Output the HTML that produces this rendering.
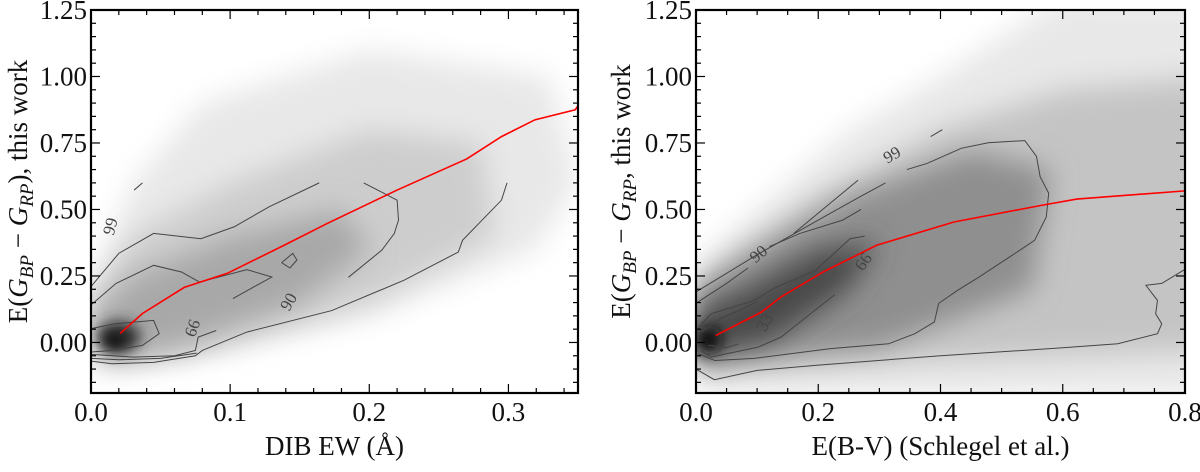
<!DOCTYPE html>
<html><head><meta charset="utf-8"><style>
body{margin:0;background:#fff;}
svg text{font-family:"Liberation Serif","DejaVu Serif",serif;fill:#111;}
</style></head><body>
<svg id="fig" width="1200" height="467" viewBox="0 0 1200 467" xmlns="http://www.w3.org/2000/svg" font-family="Liberation Serif, DejaVu Serif, serif">
<defs>
<filter id="b1" x="-50%" y="-50%" width="200%" height="200%"><feGaussianBlur stdDeviation="14"/></filter>
<filter id="b2" x="-50%" y="-50%" width="200%" height="200%"><feGaussianBlur stdDeviation="7"/></filter>
<clipPath id="clipL"><rect x="91" y="10" width="487" height="383"/></clipPath>
<clipPath id="clipR"><rect x="696" y="10" width="489" height="383"/></clipPath>
</defs>
<g id="panelL"></g>
<g id="panelR"></g>
</svg>
<script>
// ---- Left panel data ----
const leftRedX=[0.021,0.037,0.067,0.098,0.139,0.17,0.22,0.27,0.295,0.319,0.348,0.35];
const leftRedY=[0.034,0.109,0.207,0.26,0.366,0.448,0.573,0.69,0.774,0.837,0.875,0.89];
const leftC99a=[[0.0,0.21],[0.02,0.335],[0.045,0.41],[0.079,0.39],[0.103,0.435],[0.128,0.51],[0.164,0.60]];
const leftC99b=[[0.0,-0.07],[0.015,-0.08],[0.045,-0.075],[0.075,-0.05],[0.08,-0.03],[0.112,0.039],[0.173,0.12],[0.225,0.234],[0.264,0.34],[0.267,0.384],[0.295,0.535],[0.299,0.60]];
const leftDash=[[0.031,0.573],[0.037,0.60]];
const leftC90a=[[0.0,0.141],[0.018,0.222],[0.045,0.29],[0.065,0.265],[0.078,0.227],[0.112,0.274],[0.13,0.246],[0.117,0.209],[0.102,0.165]];
const leftC90b=[[0.196,0.60],[0.22,0.535],[0.221,0.46],[0.218,0.41],[0.209,0.347],[0.185,0.245]];
const leftDiamond=[[0.137,0.30],[0.145,0.335],[0.148,0.31],[0.143,0.28],[0.137,0.30]];
const leftC66=[[0.0,0.052],[0.017,0.07],[0.045,0.083],[0.049,0.033],[0.037,-0.011],[0.015,-0.03],[0.0,-0.036]];
const leftLowA=[[0.0,-0.045],[0.03,-0.055],[0.06,-0.05],[0.075,-0.03],[0.077,0.02],[0.09,0.045]];
const leftLowB=[[0.0,-0.06],[0.02,-0.065],[0.05,-0.06],[0.076,-0.04]];
const leftLabels=[["99",0.015,0.435,-75],["90",0.143,0.15,-60],["66",0.074,0.052,-70]];
const leftXTicks=["0.0","0.1","0.2","0.3"];
const leftXVals=[0,0.1,0.2,0.3];
// ---- Right panel data ----
const rightRedX=[0.032,0.107,0.139,0.208,0.296,0.422,0.566,0.623,0.8];
const rightRedY=[0.026,0.114,0.171,0.265,0.366,0.453,0.516,0.539,0.570];
const rightC99=[[0.0,0.19],[0.05,0.26],[0.1,0.33],[0.2,0.46],[0.27,0.55],[0.31,0.60]];
const rightC99b=[[0.345,0.65],[0.378,0.673],[0.434,0.73],[0.478,0.751],[0.538,0.759],[0.557,0.70],[0.563,0.623],[0.577,0.561],[0.573,0.472],[0.554,0.384],[0.522,0.335],[0.463,0.246],[0.428,0.196],[0.397,0.147],[0.39,0.077],[0.358,0.033],[0.315,-0.005],[0.22,-0.023],[0.095,-0.06],[0.031,-0.068],[0.003,-0.042]];
const rightDash=[[0.384,0.774],[0.403,0.80]];
const rightC90=[[0.003,0.152],[0.05,0.222],[0.085,0.28]];
const rightC90b=[[0.12,0.36],[0.17,0.41],[0.24,0.46],[0.27,0.50]];
const rightSeg=[[0.16,0.41],[0.265,0.61]];
const rightD=[[0.0,-0.1],[0.03,-0.14],[0.1,-0.105],[0.2,-0.085],[0.4,-0.05],[0.6,-0.02],[0.69,-0.005],[0.755,0.033],[0.762,0.07],[0.752,0.108],[0.755,0.158],[0.736,0.215],[0.762,0.222],[0.8,0.275]];
const rightC66a=[[0.005,0.06],[0.025,0.108],[0.095,0.158],[0.133,0.21],[0.195,0.27],[0.252,0.39],[0.276,0.40]];
const rightC66b=[[0.227,0.18],[0.183,0.10],[0.139,0.02],[0.101,-0.018],[0.051,-0.042],[0.025,-0.055],[0.008,-0.03]];
const rightC33=[[0.01,0.04],[0.04,0.09],[0.08,0.13],[0.10,0.155]];
const rightC33b=[[0.02,-0.01],[0.05,-0.02],[0.07,-0.005]];
const rightLabels=[["99",0.322,0.70,-30],["90",0.104,0.328,-40],["66",0.276,0.30,-55],["33",0.115,0.073,-60]];
const rightXTicks=["0.0","0.2","0.4","0.6","0.8"];
const rightXVals=[0,0.2,0.4,0.6,0.8];
const yTicks=["0.00","0.25","0.50","0.75","1.00","1.25"];
const yVals=[0,0.25,0.5,0.75,1.0,1.25];

const NS="http://www.w3.org/2000/svg";
const FF='"Liberation Serif","DejaVu Serif",serif';
function mk(tag,attrs,parent){const e=document.createElementNS(NS,tag);for(const k in attrs)e.setAttribute(k,attrs[k]);if(tag==='text')e.style.fontFamily=FF;parent.appendChild(e);return e;}

function panel(g,P){
  const sx=v=>P.x0+(v-P.xmin)/(P.xmax-P.xmin)*(P.x1-P.x0);
  const sy=v=>P.y1-(v-(-0.19))/(1.25+0.19)*(P.y1-P.y0);
  const bg=mk('g',{'clip-path':P.clip},g);
  
  
  P.bg(bg,sx,sy);
  const cg=mk('g',{fill:'none',stroke:'#444','stroke-width':1},g);
  
  
  P.contours.forEach(c=>{
    const pl=mk('polyline',{points:c.map(p=>sx(p[0])+','+sy(p[1])).join(' ')},cg);
    
    
  });
  P.labels.forEach(l=>{
    const t=mk('text',{x:sx(l[1]),y:sy(l[2]),'font-size':17,'text-anchor':'middle','dominant-baseline':'middle',transform:`rotate(${l[3]} ${sx(l[1])} ${sy(l[2])})`,style:'fill:#444'},g);
    t.textContent=l[0];
    
    
  });
  const red=mk('polyline',{points:P.rx.map((v,i)=>sx(v)+','+sy(P.ry[i])).join(' '),fill:'none',stroke:'#f00','stroke-width':1.6,'clip-path':P.clip},g);
  
  
  const tg=mk('g',{stroke:'#000','stroke-width':1.2},g);
  
  
  for(let v=P.xmin;v<=P.xmax+1e-9;v+=P.xminor){
    const maj=P.xv.some(m=>Math.abs(m-v)<1e-6);const L=maj?9:5;const X=sx(v);
    mk('line',{x1:X,x2:X,y1:P.y1,y2:P.y1-L},tg);mk('line',{x1:X,x2:X,y1:P.y0,y2:P.y0+L},tg);
  }
  for(let v=-0.15;v<=1.25+1e-9;v+=0.05){
    const maj=yVals.some(m=>Math.abs(m-v)<1e-6);const L=maj?9:5;const Y=sy(v);
    mk('line',{x1:P.x0,x2:P.x0+L,y1:Y,y2:Y},tg);mk('line',{x1:P.x1,x2:P.x1-L,y1:Y,y2:Y},tg);
  }
  const fr=mk('rect',{x:P.x0,y:P.y0,width:P.x1-P.x0,height:P.y1-P.y0,fill:'none',stroke:'#000','stroke-width':2.2},g);
  
  
  P.xv.forEach((v,i)=>{
    const t=mk('text',{x:sx(v),y:421,'font-size':27,'text-anchor':'middle'},g);
    t.textContent=P.xt[i];
    
    
  });
  yVals.forEach((v,i)=>{
    const t=mk('text',{x:P.x0-4,y:sy(v)+9,'font-size':27,'text-anchor':'end'},g);
    t.textContent=yTicks[i];
    
    
  });
  const xl=mk('text',{x:(P.x0+P.x1)/2,y:455,'font-size':27,'text-anchor':'middle'},g);
  xl.textContent=P.xlabel;
  
  
  const yc=(P.y0+P.y1)/2-10;
  const yl=mk('text',{x:P.ylx,y:yc,'font-size':27,'text-anchor':'middle',transform:`rotate(-90 ${P.ylx} ${yc})`},g);
  yl.innerHTML=P.ylabel;
  
  
}

const YL1='E(<tspan font-style="italic">G</tspan><tspan font-style="italic" font-size="19" dy="6">BP</tspan><tspan dy="-6"> − </tspan><tspan font-style="italic">G</tspan><tspan font-style="italic" font-size="19" dy="6">RP</tspan><tspan dy="-6">';

panel(document.getElementById('panelL'),{
  x0:91,x1:578,y0:10,y1:393,xmin:0,xmax:0.35,xminor:0.02,xv:leftXVals,xt:leftXTicks,clip:'url(#clipL)',
  rx:leftRedX,ry:leftRedY,labels:leftLabels,
  contours:[leftC99a,leftC99b,leftDash,leftC90a,leftC90b,leftDiamond,leftC66,leftLowA,leftLowB],
  xlabel:'DIB EW (Å)',ylx:27,
  ylabel:YL1+'), this work</tspan>',
  bg:(g,sx,sy)=>{
    mk('polygon',{points:[[0.01,-0.1],[0.06,-0.06],[0.2,0.1],[0.32,0.35],[0.35,0.6],[0.33,1.0],[0.2,1.1],[0.08,0.9],[0.03,0.6],[0.0,0.2]].map(p=>sx(p[0])+','+sy(p[1])).join(' '),fill:'#e8e8e8',filter:'url(#b1)'},g);
    mk('polygon',{points:[[0.01,-0.08],[0.08,-0.03],[0.2,0.15],[0.29,0.4],[0.28,0.75],[0.2,0.8],[0.1,0.6],[0.03,0.4],[0.0,0.15]].map(p=>sx(p[0])+','+sy(p[1])).join(' '),fill:'#cdcdcd',filter:'url(#b1)'},g);
    mk('polygon',{points:[[0.005,-0.06],[0.06,-0.02],[0.15,0.15],[0.2,0.35],[0.18,0.5],[0.1,0.4],[0.03,0.25],[0.0,0.1]].map(p=>sx(p[0])+','+sy(p[1])).join(' '),fill:'#a8a8a8',filter:'url(#b1)'},g);
    mk('ellipse',{cx:sx(0.02),cy:sy(0.02),rx:22,ry:16,fill:'#333',filter:'url(#b2)'},g);
    mk('ellipse',{cx:sx(0.017),cy:sy(0.005),rx:9,ry:7,fill:'#000',filter:'url(#b2)'},g);
  }
});
panel(document.getElementById('panelR'),{
  x0:696,x1:1185,y0:10,y1:393,xmin:0,xmax:0.8,xminor:0.05,xv:rightXVals,xt:rightXTicks,clip:'url(#clipR)',
  rx:rightRedX,ry:rightRedY,labels:rightLabels,
  contours:[rightC99,rightC99b,rightDash,rightC90,rightC90b,rightSeg,rightD,rightC66a,rightC66b,rightC33,rightC33b],
  xlabel:'E(B-V) (Schlegel et al.)',ylx:630,
  ylabel:YL1+', this work</tspan>',
  bg:(g,sx,sy)=>{
    mk('polygon',{points:[[0.0,-0.2],[0.85,-0.2],[0.85,1.3],[0.6,1.3],[0.4,1.0],[0.25,0.8],[0.1,0.5],[0.0,0.3]].map(p=>sx(p[0])+','+sy(p[1])).join(' '),fill:'#e8e8e8',filter:'url(#b1)'},g);
    mk('polygon',{points:[[0.0,-0.1],[0.85,-0.03],[0.85,1.0],[0.6,0.95],[0.4,0.8],[0.2,0.55],[0.05,0.3],[0.0,0.2]].map(p=>sx(p[0])+','+sy(p[1])).join(' '),fill:'#c4c4c4',filter:'url(#b1)'},g);
    mk('polygon',{points:[[0.0,-0.08],[0.3,-0.02],[0.55,0.2],[0.58,0.65],[0.45,0.72],[0.25,0.55],[0.1,0.35],[0.0,0.2]].map(p=>sx(p[0])+','+sy(p[1])).join(' '),fill:'#8f8f8f',filter:'url(#b1)'},g);
    mk('polygon',{points:[[0.0,-0.05],[0.12,0.0],[0.25,0.2],[0.3,0.38],[0.2,0.35],[0.08,0.2],[0.0,0.12]].map(p=>sx(p[0])+','+sy(p[1])).join(' '),fill:'#4a4a4a',filter:'url(#b1)'},g);
    mk('ellipse',{cx:sx(0.02),cy:sy(0.01),rx:14,ry:14,fill:'#111',filter:'url(#b2)'},g);
  }
});
</script>
</body></html>
